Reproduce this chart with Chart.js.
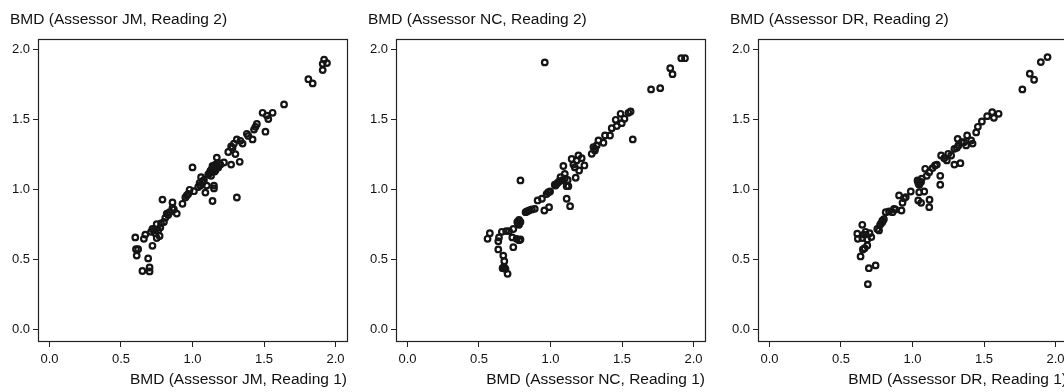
<!DOCTYPE html>
<html>
<head>
<meta charset="utf-8">
<script src="https://cdn.jsdelivr.net/npm/chart.js@4.4.1/dist/chart.umd.min.js"></script>
<style>
  body { margin: 0; background: #fff; overflow: hidden; }
  .panel { position: absolute; top: 0; width: 355px; height: 392px; }
</style>
</head>
<body>
<div class="panel" style="left:0px"><canvas id="c0"></canvas></div>
<div class="panel" style="left:358px"><canvas id="c1"></canvas></div>
<div class="panel" style="left:720px"><canvas id="c2"></canvas></div>
<script>
// values (BMD, g/cm2)
var assessors = ['JM', 'NC', 'DR'];
var tickValues = [0, 0.5, 1.0, 1.5, 2.0];

var jmReading1 = [0.60, 0.605, 0.62, 0.61, 0.66, 0.67, 0.65, 0.70, 0.70, 0.69, 0.72, 0.72,
  0.75, 0.75, 0.77, 0.76, 0.775, 0.74, 0.73, 0.79, 0.80, 0.81, 0.82, 0.84, 0.86, 0.86, 0.87,
  0.89, 0.93, 0.95, 0.97, 0.98, 1.00, 1.01, 1.04, 1.05, 1.055, 1.06, 1.07, 1.08, 1.09, 1.10,
  1.11, 1.12, 1.125, 1.13, 1.14, 1.15, 1.15, 1.14, 1.16, 1.15, 1.16, 1.14, 1.17, 1.17, 1.18,
  1.195, 1.22, 1.25, 1.27, 1.28, 1.29, 1.30, 1.31, 1.31, 1.33, 1.335, 1.35, 1.38, 1.39, 1.42,
  1.43, 1.45, 1.49, 1.51, 1.52, 1.53, 1.56, 1.64, 1.81, 1.84, 1.91, 1.91, 1.92, 1.94,
  1.13, 1.155, 1.165, 1.185, 0.78, 0.83, 0.96, 1.07, 1.27, 1.44, 0.71];
var jmReading2 = [0.66, 0.576, 0.576, 0.53, 0.65, 0.68, 0.42, 0.445, 0.417, 0.51, 0.60, 0.72,
  0.755, 0.655, 0.67, 0.71, 0.73, 0.69, 0.71, 0.93, 0.77, 0.80, 0.83, 0.84, 0.91, 0.87, 0.86,
  0.83, 0.90, 0.945, 0.97, 1.00, 1.16, 0.99, 1.02, 1.05, 1.03, 1.09, 1.06, 1.07, 0.98, 1.03,
  1.11, 1.12, 1.135, 1.14, 0.92, 1.03, 1.01, 1.17, 1.18, 1.15, 1.14, 1.16, 1.23, 1.17, 1.16,
  1.18, 1.195, 1.27, 1.18, 1.30, 1.33, 1.255, 1.36, 0.945, 1.20, 1.35, 1.33, 1.40, 1.385, 1.36,
  1.43, 1.47, 1.55, 1.415, 1.53, 1.505, 1.55, 1.61, 1.79, 1.76, 1.855, 1.90, 1.93, 1.905,
  1.10, 1.13, 1.15, 1.19, 0.76, 0.82, 0.96, 1.05, 1.31, 1.45, 0.70];

var ncReading1 = [0.56, 0.576, 0.635, 0.64, 0.635, 0.66, 0.69, 0.71, 0.67, 0.677, 0.665, 0.685,
  0.70, 0.74, 0.733, 0.74, 0.763, 0.78, 0.79, 0.768, 0.78, 0.79, 0.79, 0.826, 0.845, 0.87, 0.89,
  0.91, 0.94, 0.957, 0.973, 0.985, 0.997, 0.96, 0.99, 1.03, 1.043, 1.06, 1.08, 1.09, 1.10, 1.113,
  1.125, 1.113, 1.137, 1.148, 1.17, 1.183, 1.195, 1.176, 1.20, 1.218, 1.237, 1.288, 1.30, 1.311,
  1.323, 1.335, 1.37, 1.381, 1.416, 1.428, 1.456, 1.463, 1.49, 1.498, 1.517, 1.545, 1.56, 1.575,
  1.703, 1.767, 1.837, 1.853, 1.914, 1.94,
  0.835, 0.855, 1.035, 1.05, 1.07, 1.10, 1.16, 1.31, 0.775, 0.78, 0.675, 1.12];
var ncReading2 = [0.65, 0.69, 0.633, 0.66, 0.574, 0.70, 0.705, 0.705, 0.53, 0.49, 0.44, 0.435,
  0.40, 0.59, 0.66, 0.72, 0.65, 0.64, 0.645, 0.77, 0.785, 0.77, 1.067, 0.84, 0.85, 0.86, 0.864,
  0.924, 0.936, 0.852, 0.97, 0.983, 0.988, 1.91, 0.876, 1.036, 1.043, 1.06, 1.067, 1.17, 1.114,
  1.026, 1.026, 0.936, 0.883, 1.22, 1.16, 1.21, 1.245, 1.086, 1.138, 1.226, 1.174, 1.257, 1.305,
  1.293, 1.317, 1.352, 1.336, 1.388, 1.388, 1.44, 1.50, 1.455, 1.543, 1.476, 1.507, 1.55, 1.56,
  1.36, 1.717, 1.726, 1.869, 1.826, 1.94, 1.94,
  0.845, 0.855, 1.03, 1.05, 1.09, 1.08, 1.18, 1.28, 0.76, 0.75, 0.45, 1.07];

var drReading1 = [0.614, 0.618, 0.649, 0.649, 0.672, 0.684, 0.712, 0.637, 0.653, 0.665, 0.684,
  0.695, 0.742, 0.688, 0.754, 0.773, 0.789, 0.80, 0.766, 0.813, 0.836, 0.86, 0.871, 0.906, 0.923,
  0.93, 0.941, 0.953, 0.988, 1.035, 1.047, 1.06, 1.04, 1.06, 1.047, 1.082, 1.089, 1.10, 1.117,
  1.14, 1.157, 1.119, 1.117, 1.194, 1.194, 1.20, 1.222, 1.25, 1.27, 1.293, 1.293, 1.316, 1.335,
  1.321, 1.344, 1.382, 1.375, 1.41, 1.42, 1.445, 1.457, 1.485, 1.522, 1.557, 1.569, 1.602, 1.768,
  1.82, 1.85, 1.897, 1.944,
  1.04, 1.05, 1.045, 1.065, 0.78, 0.79, 0.88, 1.17, 1.24, 1.31, 1.36, 0.70, 0.66];
var drReading2 = [0.686, 0.65, 0.75, 0.655, 0.70, 0.645, 0.662, 0.524, 0.574, 0.583, 0.602,
  0.44, 0.46, 0.326, 0.72, 0.75, 0.78, 0.79, 0.71, 0.84, 0.845, 0.84, 0.864, 0.96, 0.852, 0.907,
  0.94, 0.948, 0.988, 1.067, 1.036, 1.055, 0.924, 0.907, 0.983, 0.988, 1.15, 1.10, 1.126, 1.155,
  1.174, 0.929, 0.876, 1.10, 1.036, 1.245, 1.226, 1.257, 1.245, 1.293, 1.18, 1.364, 1.19, 1.317,
  1.34, 1.388, 1.317, 1.352, 1.33, 1.41, 1.45, 1.488, 1.526, 1.555, 1.514, 1.543, 1.717, 1.829,
  1.786, 1.912, 1.948,
  1.05, 1.06, 1.04, 1.08, 0.76, 0.77, 0.86, 1.18, 1.21, 1.30, 1.34, 0.69, 0.68];

var xSeries = [jmReading1, ncReading1, drReading1];
var ySeries = [jmReading2, ncReading2, drReading2];

var ink = '#111';
var fontFamily = '"Liberation Sans", Arial, Helvetica, sans-serif';

// frame around the plot area, like R's box()
var boxPlugin = {
    id: 'box',
    afterDraw: function(chart) {
        var a = chart.chartArea;
        var ctx = chart.ctx;
        ctx.save();
        ctx.strokeStyle = '#222';
        ctx.lineWidth = 1.2;
        ctx.strokeRect(Math.round(a.left) + 0.5, Math.round(a.top) + 0.5,
            Math.round(a.right - a.left), Math.round(a.bottom - a.top));
        ctx.restore();
    }
};

function fixedTicks(scale) {
    scale.ticks = tickValues.map(function(v) { return { value: v }; });
}

for (var i = 0; i < assessors.length; i++) {
    var pts = [];
    for (var k = 0; k < xSeries[i].length; k++) {
        pts.push({ x: xSeries[i][k], y: ySeries[i][k] });
    }
    var name = assessors[i];
    new Chart(document.getElementById('c' + i).getContext('2d'), {
        type: 'scatter',
        data: {
            datasets: [{
                data: pts,
                pointRadius: 2.8,
                pointBorderWidth: 2.2,
                pointBorderColor: '#151515',
                pointBackgroundColor: 'rgba(255,255,255,0)',
                pointHoverRadius: 2.8
            }]
        },
        options: {
            responsive: true,
            maintainAspectRatio: false,
            animation: false,
            layout: { padding: { left: 10, right: 8, top: 0, bottom: 0 } },
            plugins: {
                legend: { display: false },
                tooltip: { enabled: false },
                title: {
                    display: true,
                    text: 'BMD (Assessor ' + name + ', Reading 2)',
                    align: 'start',
                    color: ink,
                    font: { family: fontFamily, size: 15.5, weight: 'normal' },
                    padding: { top: 10, bottom: 10 }
                }
            },
            scales: {
                x: {
                    type: 'linear',
                    min: -0.08,
                    max: 2.08,
                    afterBuildTicks: fixedTicks,
                    afterFit: function(scale) { scale.height = 51; },
                    grid: { drawOnChartArea: false, drawTicks: true, tickLength: 6, color: '#222' },
                    border: { display: false },
                    ticks: {
                        color: ink,
                        padding: 5,
                        maxRotation: 0,
                        autoSkip: false,
                        font: { family: fontFamily, size: 13 },
                        callback: function(v) { return Number(v).toFixed(1); }
                    },
                    title: {
                        display: true,
                        text: 'BMD (Assessor ' + name + ', Reading 1)',
                        align: 'end',
                        color: ink,
                        font: { family: fontFamily, size: 15.5 },
                        padding: { top: 0, bottom: 3 }
                    }
                },
                y: {
                    type: 'linear',
                    min: -0.08,
                    max: 2.08,
                    afterBuildTicks: fixedTicks,
                    afterFit: function(scale) { scale.width = 28; },
                    grid: { drawOnChartArea: false, drawTicks: true, tickLength: 5, color: '#222' },
                    border: { display: false },
                    ticks: {
                        color: ink,
                        padding: 3,
                        autoSkip: false,
                        font: { family: fontFamily, size: 13 },
                        callback: function(v) { return Number(v).toFixed(1); }
                    }
                }
            }
        },
        plugins: [boxPlugin]
    });
}
</script>
</body>
</html>
